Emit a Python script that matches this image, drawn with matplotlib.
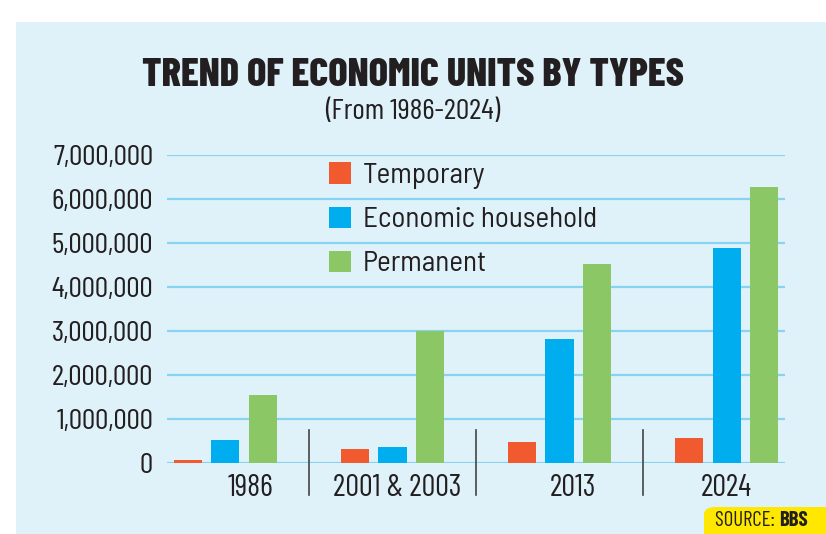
import matplotlib.pyplot as plt
import numpy as np
from matplotlib.patches import FancyBboxPatch, Rectangle
from matplotlib.text import Annotation

# data
years = ["1986", "2001 & 2003", "2013", "2024"]
temporary = [60000, 320000, 480000, 570000]
household = [530000, 360000, 2820000, 4880000]
permanent = [1550000, 3000000, 4520000, 6270000]
series_names = ["Temporary", "Economic household", "Permanent"]
yticks = np.arange(0, 7000001, 1000000)

colors = ["#f15a2f", "#00aeef", "#8bc764"]
bg = "#dff2fa"
grid_c = "#86d3f2"
txt = "#231f20"
cond = ["Barlow Condensed", "DejaVu Sans"]
semi = ["Barlow Semi Condensed", "DejaVu Sans"]

fig = plt.figure(figsize=(8.26, 5.34), dpi=100)
fig.patch.set_facecolor("white")
fig.patches.append(Rectangle((16 / 826, 0), 1, 1 - 22 / 534, transform=fig.transFigure,
                             facecolor=bg, edgecolor="none", zorder=-5))

ax = fig.add_axes([167 / 826, 1 - 463 / 534, 618 / 826, 308 / 534])
ax.set_facecolor("none")

x = np.arange(len(years))
w = 0.168
step = 0.222
for k, vals in enumerate([temporary, household, permanent]):
    ax.bar(x + (k - 1) * step, vals, width=w, color=colors[k],
           label=series_names[k], zorder=3)

ax.set_xlim(-0.35, 3.35)
ax.set_ylim(0, 7000000)
ax.set_yticks(yticks)
ax.set_yticklabels([f"{v:,}" for v in yticks], fontsize=21.5, family=cond, color=txt)
ax.grid(axis="y", color=grid_c, linewidth=1.6, zorder=1)
ax.tick_params(axis="y", length=0, pad=10)
ax.tick_params(axis="x", length=0, pad=8)
for s in ax.spines.values():
    s.set_visible(False)

ax.set_xticks(x + np.array([0.15, 0.03, 0.08, 0.0]))
ax.set_xticklabels(years, fontsize=22, family=cond, color=txt)

# separators between groups
for sx in [0.5, 1.5, 2.5]:
    ax.plot([sx, sx], [750000, -730000], color="#444444", linewidth=1.2,
            clip_on=False, zorder=4)

leg = ax.legend(loc="upper left", bbox_to_anchor=(0.238, 1.023), frameon=False,
                prop={"family": semi, "size": 21}, handlelength=0.75,
                handleheight=0.75, handletextpad=0.41, labelspacing=0.59,
                borderpad=0, labelcolor=txt)

fig.text(0.5, 1 - 76 / 534, "TREND OF ECONOMIC UNITS BY TYPES", ha="center", va="center",
         fontsize=29, fontweight=800, family=cond, color=txt)
fig.text(0.5, 1 - 112 / 534, "(From 1986-2024)", ha="center", va="center",
         fontsize=21.5, family=cond, color=txt)

# source box
fig.patches.append(FancyBboxPatch((704 / 826, -0.03), 0.2, 27 / 534 + 0.03,
                                  boxstyle="round,pad=0,rounding_size=0.014",
                                  transform=fig.transFigure, facecolor="#ffe800",
                                  edgecolor="none", zorder=5))
t1 = fig.text(715 / 826, 1 - 521 / 534, "SOURCE: ", ha="left", va="center", fontsize=15,
              family=cond, color=txt, zorder=6)
bbs = Annotation("BBS", xy=(1, 0.5), xycoords=t1, ha="left", va="center", fontsize=15,
                 fontweight="bold", family=cond, color=txt, annotation_clip=False)
bbs.set_zorder(6)
fig.add_artist(bbs)

fig.savefig("out.png", dpi=100)
